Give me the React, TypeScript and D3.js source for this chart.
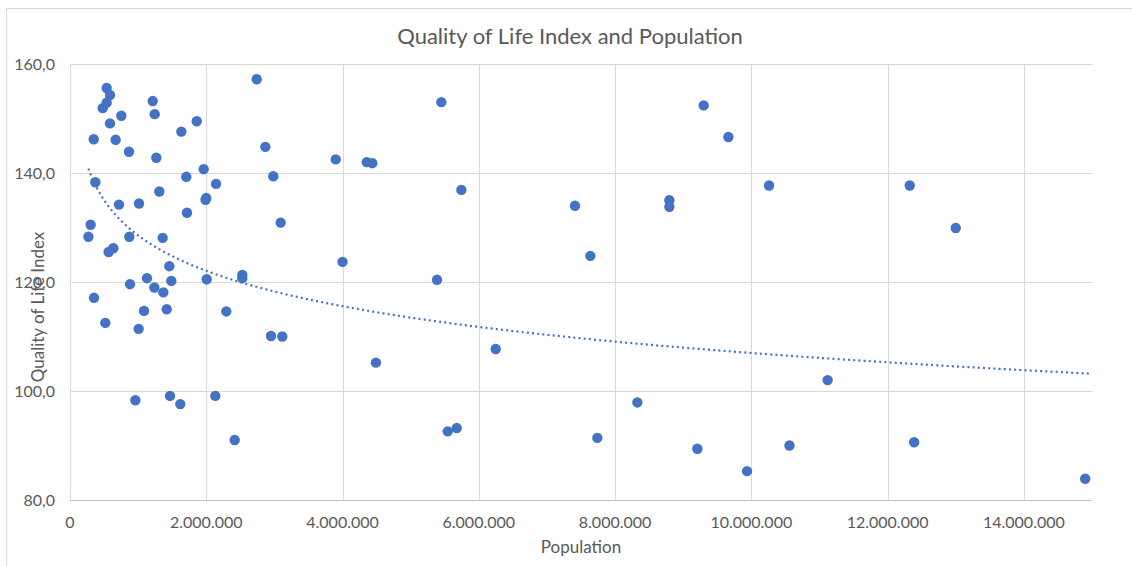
import { useEffect, useRef } from 'react';
import * as d3 from 'd3';

// population of each city
const population = [
  538000, 587000, 538000, 480000, 753000, 587000, 348000, 670000, 866000, 1214000,
  1243000, 1634000, 1860000, 1267000, 1962000, 1707000, 2143000, 372000, 1311000, 1990000,
  2000000, 719000, 1013000, 1717000, 2740000, 2867000, 2984000, 3092000, 3900000, 4355000,
  4437000, 303000, 270000, 871000, 1360000, 636000, 567000, 1458000, 4000000, 2529000,
  2529000, 1130000, 881000, 1238000, 1370000, 1487000, 2006000, 352000, 1086000, 1419000,
  2294000, 518000, 1008000, 2950000, 3116000, 4490000, 959000, 1468000, 1619000, 2133000,
  2417000, 5450000, 5744000, 7412000, 7637000, 5387000, 9301000, 9663000, 8797000, 8797000,
  10260000, 6248000, 5544000, 5676000, 7740000, 8327000, 9208000, 9937000, 12325000, 13000000,
  11120000, 10560000, 12390000, 14900000,
];

// quality of life index, same order
const qualityIndex = [
  155.6, 154.3, 152.9, 151.9, 150.5, 149.1, 146.2, 146.1, 143.9, 153.2,
  150.8, 147.6, 149.5, 142.8, 140.7, 139.3, 138.0, 138.3, 136.6, 135.1,
  135.4, 134.2, 134.4, 132.7, 157.2, 144.8, 139.4, 130.9, 142.5, 142.0,
  141.8, 130.5, 128.3, 128.3, 128.1, 126.2, 125.5, 122.9, 123.7, 121.3,
  120.7, 120.7, 119.6, 119.0, 118.1, 120.2, 120.5, 117.1, 114.7, 115.0,
  114.6, 112.5, 111.4, 110.1, 110.0, 105.2, 98.3, 99.1, 97.6, 99.1,
  91.0, 153.0, 136.9, 134.0, 124.8, 120.4, 152.4, 146.6, 135.0, 133.8,
  137.7, 107.7, 92.6, 93.2, 91.4, 97.9, 89.4, 85.3, 137.7, 129.9,
  102.0, 90.0, 90.6, 83.9,
];

// logarithmic trendline y = a + b*ln(x), as drawn in the picture
const trendIntercept = 258.0;
const trendSlope = -9.37;

const xTicks = [0, 2000000, 4000000, 6000000, 8000000, 10000000, 12000000, 14000000];
const yTicks = [80, 100, 120, 140, 160];

const FONT = 'Lato, "Open Sans", sans-serif';
const TEXT = '#595959';
const GRID = '#d9d9d9';
const BLUE = '#4472C4';

export default function App() {
  const ref = useRef<SVGSVGElement | null>(null);

  useEffect(() => {
    if (!ref.current) return;
    const svg = d3.select(ref.current);
    svg.selectAll('*').remove();

    const W = 1132, H = 566;
    const margin = { top: 64, left: 70 };
    const innerW = 1092 - margin.left;
    const innerH = 500 - margin.top;

    const locale = d3.formatLocale({ decimal: ',', thousands: '.', grouping: [3], currency: ['', ''] });
    const fmtX = locale.format(',.0f');
    const fmtY = locale.format('.1f');

    const x = d3.scaleLinear().domain([0, 15000000]).range([0, innerW]);
    const y = d3.scaleLinear().domain([80, 160]).range([innerH, 0]);

    svg.attr('width', W).attr('height', H);

    // chart border
    svg.append('rect')
      .attr('x', 6.5).attr('y', 8.5)
      .attr('width', W).attr('height', H)
      .attr('fill', 'none').attr('stroke', GRID);

    svg.append('text')
      .attr('x', 570).attr('y', 44)
      .attr('text-anchor', 'middle')
      .attr('fill', TEXT)
      .attr('font-family', FONT)
      .attr('font-size', '22px')
      .text('Quality of Life Index and Population');

    const g = svg.append('g').attr('transform', `translate(${margin.left},${margin.top})`);

    // grid
    g.append('g')
      .selectAll('line')
      .data(yTicks)
      .enter().append('line')
      .attr('x1', 0).attr('x2', innerW)
      .attr('y1', d => Math.round(y(d)) + 0.5).attr('y2', d => Math.round(y(d)) + 0.5)
      .attr('stroke', d => (d === 80 ? '#bfbfbf' : GRID));

    g.append('g')
      .selectAll('line')
      .data(xTicks)
      .enter().append('line')
      .attr('y1', 0).attr('y2', innerH)
      .attr('x1', d => Math.round(x(d)) + 0.5).attr('x2', d => Math.round(x(d)) + 0.5)
      .attr('stroke', GRID);

    // tick labels
    g.append('g')
      .selectAll('text')
      .data(yTicks)
      .enter().append('text')
      .attr('x', -15).attr('y', d => y(d))
      .attr('dy', '0.35em')
      .attr('text-anchor', 'end')
      .attr('fill', TEXT)
      .attr('font-family', FONT)
      .attr('font-size', '16px')
      .text(d => fmtY(d));

    g.append('g')
      .selectAll('text')
      .data(xTicks)
      .enter().append('text')
      .attr('x', d => x(d)).attr('y', innerH + 22)
      .attr('dy', '0.35em')
      .attr('text-anchor', 'middle')
      .attr('fill', TEXT)
      .attr('font-family', FONT)
      .attr('font-size', '16px')
      .text(d => fmtX(d));

    // axis titles
    svg.append('text')
      .attr('x', 581).attr('y', 547)
      .attr('dy', '0.35em')
      .attr('text-anchor', 'middle')
      .attr('fill', TEXT)
      .attr('font-family', FONT)
      .attr('font-size', '17px')
      .text('Population');

    svg.append('text')
      .attr('transform', 'translate(38,307) rotate(-90)')
      .attr('dy', '0.35em')
      .attr('text-anchor', 'middle')
      .attr('fill', TEXT)
      .attr('font-family', FONT)
      .attr('font-size', '17px')
      .text('Quality of Life Index');

    // points
    const pts = population.map((p, i) => ({ p, q: qualityIndex[i] }));
    g.append('g')
      .selectAll('circle')
      .data(pts)
      .enter().append('circle')
      .attr('cx', d => x(d.p))
      .attr('cy', d => y(d.q))
      .attr('r', 5.2)
      .attr('fill', BLUE);

    // trendline from the smallest city to the axis end
    const x0 = d3.min(population) as number;
    const trend = d3.range(0, 201).map(k => {
      const xv = x0 + (15000000 - x0) * Math.pow(k / 200, 1.6);
      return [xv, trendIntercept + trendSlope * Math.log(xv)] as [number, number];
    });
    g.append('path')
      .datum(trend)
      .attr('d', d3.line<[number, number]>().x(d => x(d[0])).y(d => y(d[1])))
      .attr('fill', 'none')
      .attr('stroke', BLUE)
      .attr('stroke-width', 2.2)
      .attr('stroke-dasharray', '2,3.2');
  }, []);

  return (
    <div style={{ position: 'absolute', left: 0, top: 0 }}>
      <svg ref={ref} style={{ display: 'block' }} />
    </div>
  );
}
